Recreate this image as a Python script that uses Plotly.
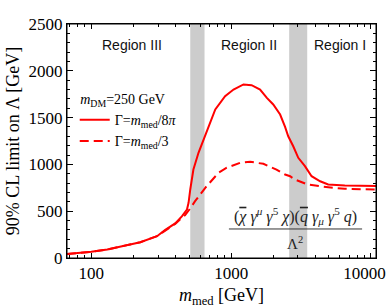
import plotly.graph_objects as go
import math

# ---- data ----
m_solid = [67, 80, 100, 130, 170, 224, 295, 338, 398, 444, 483, 496, 510, 537, 584, 635, 670,
           770, 905, 1040, 1225, 1400, 1610, 1800, 2000, 2240, 2430, 2560, 2780, 3020, 3370,
           3760, 4330, 4940, 6500, 8500, 10900]
lim_solid = [42, 52, 66, 91, 126, 169, 233, 300, 370, 445, 518, 590, 732, 945, 1124, 1266, 1373,
             1587, 1729, 1800, 1854, 1846, 1800, 1711, 1640, 1533, 1400, 1300, 1194, 1070, 981,
             874, 820, 785, 775, 770, 768]

m_dashed = [67, 80, 100, 130, 170, 224, 295, 338, 398, 444, 469, 510, 552, 653, 750, 812, 930,
            1160, 1370, 1700, 2110, 2430, 2640, 2850, 3530, 4600, 6500, 8500, 10900]
lim_dashed = [42, 52, 66, 91, 126, 169, 233, 295, 365, 430, 460, 530, 607, 750, 857, 910, 964,
              1017, 1028, 1006, 945, 892, 874, 839, 785, 761, 739, 735, 732]

band_lo = [510, 2600]
band_hi = [645, 3500]
region_labels = ["Region III", "Region II", "Region I"]
x_major = [100, 1000, 10000]
x_major_text = ["100", "1000", "10000&#160;&#160;&#160;"]
x_minor = [70, 80, 90, 200, 300, 400, 500, 600, 700, 800, 900,
           2000, 3000, 4000, 5000, 6000, 7000, 8000, 9000]
x_range = [67, 10860]
y_range = [0, 2500]
y_major = [0, 500, 1000, 1500, 2000, 2500]

SERIF = "Liberation Serif"
SANS = "Liberation Sans"
RED = "#ff0000"

fig = go.Figure()
fig.add_trace(go.Scatter(x=m_solid, y=lim_solid, mode="lines",
                         line=dict(color=RED, width=2),
                         name="Γ=<i>m</i><sub>med</sub>/8<i>π</i>"))
fig.add_trace(go.Scatter(x=m_dashed, y=lim_dashed, mode="lines",
                         line=dict(color=RED, width=2, dash="9px,5px"),
                         name="Γ=<i>m</i><sub>med</sub>/3"))

for lo, hi in zip(band_lo, band_hi):
    fig.add_shape(type="rect", xref="x", yref="paper", x0=lo, x1=hi, y0=0, y1=1,
                  fillcolor="#cccccc", line=dict(width=0), layer="below")

# plot frame
fig.add_shape(type="rect", xref="paper", yref="paper", x0=0, x1=1, y0=0, y1=1,
              line=dict(color="black", width=1), fillcolor="rgba(0,0,0,0)", layer="above")

# region labels
for lab, xp in zip(region_labels, [0.209, 0.590, 0.883]):
    fig.add_annotation(text=lab, xref="paper", yref="paper", x=xp, y=0.91,
                       showarrow=False, font=dict(family=SANS, size=14, color="#111"),
                       xanchor="center", yanchor="middle")

OV = "<span style='text-decoration:overline'>"
fig.add_annotation(
    text="(" + OV + "<i>χ</i></span> <i>γ</i><sup><i>μ</i></sup> <i>γ</i><sup>5</sup> <i>χ</i>)"
         "(" + OV + "<i>q</i></span> <i>γ</i><sub><i>μ</i></sub> <i>γ</i><sup>5</sup> <i>q</i>)",
    xref="paper", yref="paper", x=0.738, y=0.18, showarrow=False,
    font=dict(family=SERIF, size=16, color="#222"), xanchor="center", yanchor="middle")
fig.add_shape(type="line", xref="paper", yref="paper", x0=0.524, x1=0.955, y0=0.124, y1=0.124,
              line=dict(color="#333", width=1))
fig.add_annotation(text="Λ<sup>2</sup>", xref="paper", yref="paper", x=0.738, y=0.065,
                   showarrow=False, font=dict(family=SERIF, size=15, color="#222"),
                   xanchor="center", yanchor="middle")

axis_common = dict(showline=True, linecolor="black", linewidth=1, mirror="ticks",
                   ticks="inside", tickcolor="black", showgrid=False, zeroline=False,
                   automargin=False, ticklabeloverflow="allow")

fig.update_layout(
    width=390, height=308, autosize=False,
    margin=dict(l=67, r=14, t=24, b=50, autoexpand=False),
    paper_bgcolor="white", plot_bgcolor="white",
    font=dict(family=SERIF, size=17, color="black"),
    showlegend=True,
    legend=dict(x=0.025, y=0.735, xanchor="left", yanchor="top",
                bgcolor="rgba(0,0,0,0)", font=dict(family=SERIF, size=14),
                title=dict(text=" <i>m</i><sub>DM</sub>=250 GeV", font=dict(family=SERIF, size=14)),
                itemwidth=30, tracegroupgap=0),
    xaxis=dict(type="log", range=[math.log10(x_range[0]), math.log10(x_range[1])],
               tickvals=x_major, ticktext=x_major_text, ticklen=5,
               minor=dict(tickmode="array", tickvals=x_minor, ticks="inside", ticklen=3,
                          tickcolor="black", showgrid=False),
               tickfont=dict(family=SERIF, size=17),
               title=dict(text="<i>m</i><sub>med</sub> [GeV]", font=dict(family=SERIF, size=18),
                          standoff=6),
               **axis_common),
    yaxis=dict(range=y_range, tickvals=y_major, ticklen=6,
               tickfont=dict(family=SERIF, size=17),
               minor=dict(dtick=100, ticks="inside", ticklen=3, tickcolor="black",
                          showgrid=False),
               title=dict(text="90% CL limit on Λ [GeV]", font=dict(family=SERIF, size=18),
                          standoff=4),
               **axis_common),
)

fig.write_html(
    "out.html", config={"displayModeBar": False},
    post_script="document.body.style.margin='0';"
                "document.body.style.overflow='hidden';"
                "document.documentElement.style.overflow='hidden';")
